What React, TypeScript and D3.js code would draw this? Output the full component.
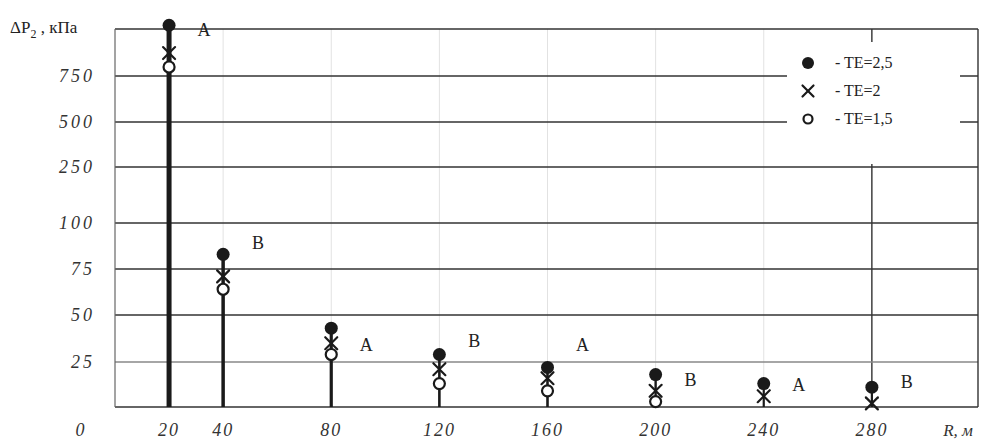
import React from "react";
import * as d3 from "d3";

const categories = [20, 40, 80, 120, 160, 200, 240, 280];
const te25 = [1020, 83, 43, 29, 22, 18, 13, 11];
const te2 = [872, 71, 35, 21, 16, 9, 6, 2];
const te15: (number | null)[] = [798, 64, 29, 13, 9, 3, null, null];
const pointLabels = ["A", "B", "A", "B", "A", "B", "A", "B"];
const labelValues = [995, 89, 34, 36, 34, 15, 12, 14];
const yTicks = [0, 25, 50, 75, 100, 250, 500, 750, 1000];
const yTickLabels = ["0", "25", "50", "75", "100", "250", "500", "750", ""];
const legendLabels = ["- TE=2,5", "- TE=2", "- TE=1,5"];

const W = 983;
const H = 441;
const serif = "'Liberation Serif', 'DejaVu Serif', serif";

export default function App() {
  const x = d3.scaleLinear().domain([0, 320]).range([115, 980]);
  const y = d3
    .scaleLinear()
    .domain(yTicks)
    .range([407, 362, 315, 269, 223, 167, 122, 76, 29]);
  const plotL = 115;
  const plotR = 978;
  const stemW = [5, 3.5, 3.2, 2.6, 2.6, 2.4, 2.2, 2.2];
  const dark = "#1a1a1a";

  const cross = (cx: number, cy: number, s: number, sw: number) => (
    <g stroke={dark} strokeWidth={sw} strokeLinecap="round">
      <line x1={cx - s} y1={cy - s} x2={cx + s} y2={cy + s} />
      <line x1={cx - s} y1={cy + s} x2={cx + s} y2={cy - s} />
    </g>
  );

  return (
    <svg
      width={W}
      height={H}
      style={{ position: "absolute", left: 0, top: 0, background: "#fff" }}
      fontFamily={serif}
    >
      <rect width={W} height={H} fill="#fff" />
      {/* vertical faint grid */}
      {categories.map((c, i) => (
        <line
          key={"vg" + i}
          x1={x(c)}
          x2={x(c)}
          y1={y(1000)}
          y2={y(0)}
          stroke={c === 280 ? "#222" : "#e2e2e2"}
          strokeWidth={c === 280 ? 1.3 : 1}
        />
      ))}
      {/* horizontal grid */}
      {yTicks.map((t, i) => (
        <line
          key={"hg" + i}
          x1={plotL}
          x2={plotR}
          y1={y(t)}
          y2={y(t)}
          stroke={t === 25 ? "#888" : "#333"}
          strokeWidth={1.4}
        />
      ))}
      {/* frame */}
      <line x1={plotL} x2={plotL} y1={y(1000)} y2={y(0)} stroke="#666" strokeWidth={1.2} />
      <line x1={plotR} x2={plotR} y1={y(1000)} y2={y(0)} stroke="#333" strokeWidth={1.4} />

      {/* legend box */}
      <rect x={787} y={42} width={173} height={122} fill="#fff" />
      {legendLabels.map((l, i) => {
        const ly = 63 + i * 28;
        return (
          <g key={"lg" + i}>
            {i === 0 && <circle cx={808} cy={ly} r={6} fill={dark} />}
            {i === 1 && cross(808, ly, 5.5, 2.2)}
            {i === 2 && <circle cx={808} cy={ly} r={4.5} fill="#fff" stroke={dark} strokeWidth={2.2} />}
            <text x={835} y={ly + 5} fontSize={16} fill="#222">
              {l}
            </text>
          </g>
        );
      })}

      {/* stems */}
      {categories.map((c, i) => (
        <line
          key={"st" + i}
          x1={x(c)}
          x2={x(c)}
          y1={y(0)}
          y2={y(te25[i])}
          stroke={dark}
          strokeWidth={stemW[i]}
        />
      ))}
      {/* markers */}
      {categories.map((c, i) => (
        <g key={"mk" + i}>
          {te15[i] !== null && (
            <circle cx={x(c)} cy={y(te15[i] as number)} r={5.5} fill="#fff" stroke={dark} strokeWidth={2.2} />
          )}
          {cross(x(c), y(te2[i]), 6, 2.2)}
          <circle cx={x(c)} cy={y(te25[i])} r={6.5} fill={dark} />
          <text x={x(c) + 35} y={y(labelValues[i]) + 6} fontSize={18} fill="#222" textAnchor="middle">
            {pointLabels[i]}
          </text>
        </g>
      ))}

      {/* y tick labels */}
      {yTicks.map((t, i) =>
        t === 0 || yTickLabels[i] === "" ? null : (
          <text
            key={"yl" + i}
            x={95}
            y={y(t) + 6}
            fontSize={18}
            fontStyle="italic"
            textAnchor="end"
            letterSpacing={3}
            fill="#333"
          >
            {yTickLabels[i]}
          </text>
        )
      )}
      <text x={80} y={436} fontSize={18} fontStyle="italic" textAnchor="middle" fill="#333">
        {yTickLabels[0]}
      </text>
      {/* x tick labels */}
      {categories.map((c, i) => (
        <text
          key={"xl" + i}
          x={x(c)}
          y={436}
          fontSize={18}
          fontStyle="italic"
          textAnchor="middle"
          letterSpacing={2}
          fill="#333"
        >
          {c}
        </text>
      ))}
      <text x={958} y={436} fontSize={17} fontStyle="italic" textAnchor="middle" fill="#333">
        R, м
      </text>
      <text x={10} y={33} fontSize={17} fill="#222">
        ΔP<tspan fontSize={12} dy={5}>2</tspan>
        <tspan dy={-5}> , кПа</tspan>
      </text>
    </svg>
  );
}
